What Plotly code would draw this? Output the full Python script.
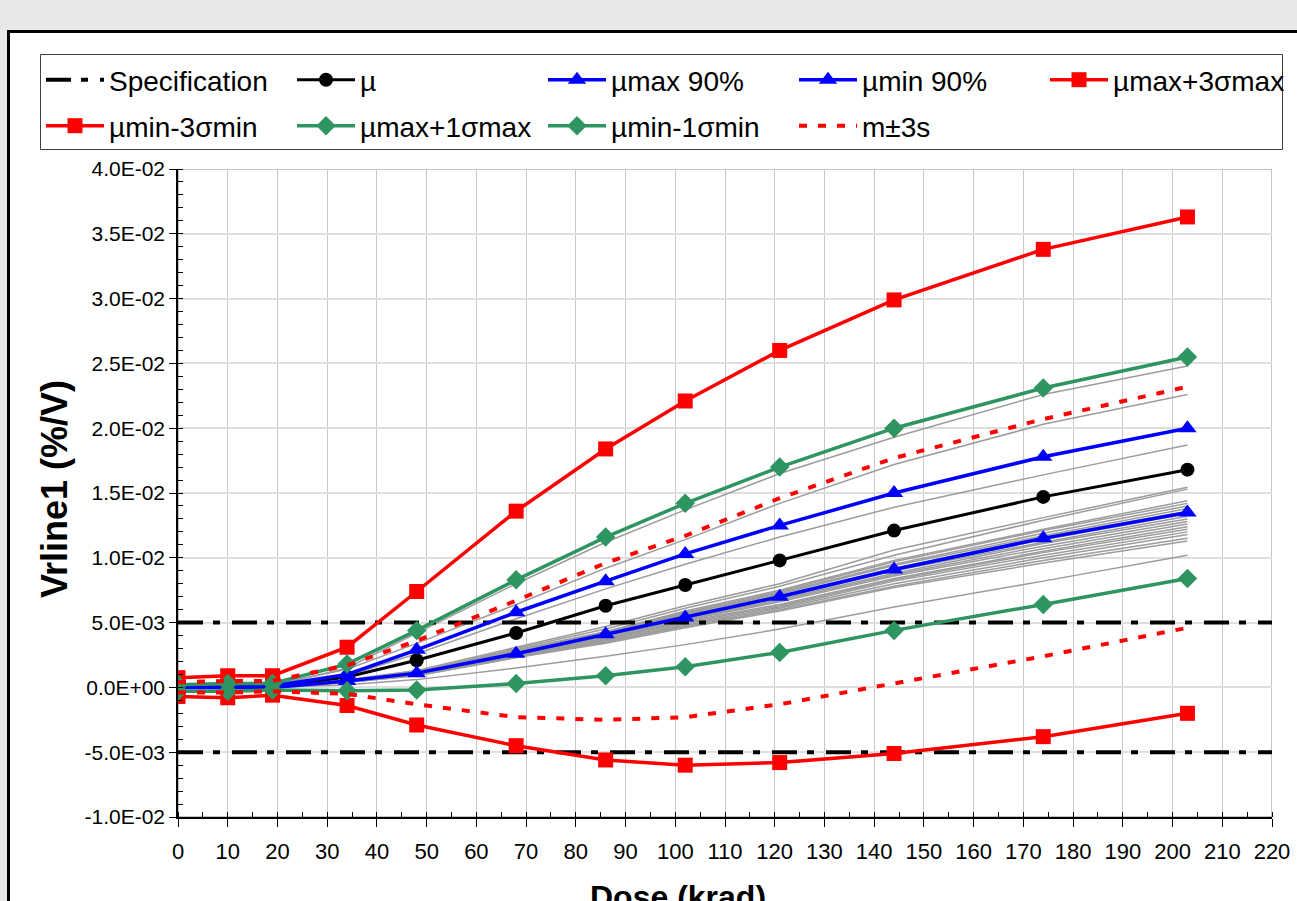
import plotly.graph_objects as go

# ---------------- data ----------------
dose = [0, 10, 19, 34, 48, 68, 86, 102, 121, 144, 174, 203]

mu = [0.0, 0.0, 0.00005, 0.0008, 0.0021, 0.0042, 0.0063, 0.0079, 0.0098, 0.0121, 0.0147, 0.0168]
mu_max90 = [0.0, 0.0, 0.0001, 0.0010, 0.0029, 0.0058, 0.0082, 0.0103, 0.0125, 0.0150, 0.0178, 0.0200]
mu_min90 = [0.0, 0.0, 0.0, 0.0005, 0.0011, 0.0026, 0.0041, 0.0054, 0.0070, 0.0091, 0.0115, 0.0135]
mu_max_3s = [0.00075, 0.0009, 0.0009, 0.0031, 0.0074, 0.0136, 0.0184, 0.0221, 0.0260, 0.0299, 0.0338, 0.0363]
mu_min_3s = [-0.0007, -0.0008, -0.0006, -0.0014, -0.0029, -0.0045, -0.0056, -0.0060, -0.0058, -0.0051, -0.0038, -0.0020]
mu_max_1s = [0.0002, 0.0003, 0.0003, 0.0018, 0.0044, 0.0083, 0.0116, 0.0142, 0.0170, 0.0200, 0.0231, 0.0255]
mu_min_1s = [-0.0003, -0.0003, -0.0002, -0.00025, -0.0002, 0.0003, 0.0009, 0.0016, 0.0027, 0.0044, 0.0064, 0.0084]
m3s_upper = [0.0004, 0.0005, 0.0005, 0.0017, 0.0036, 0.0067, 0.0096, 0.0117, 0.0146, 0.0177, 0.0207, 0.0232]
m3s_lower = [-0.0004, -0.0004, -0.0003, -0.0005, -0.0013, -0.0023, -0.0025, -0.0023, -0.0013, 0.0003, 0.0024, 0.0046]

spec_limits = [0.005, -0.005]
spec_x = [0, 220]

gray_lines = [
    [0.0, 0.0001, 0.0001, 0.0015, 0.0042, 0.0080, 0.0112, 0.0137, 0.0165, 0.0193, 0.0226, 0.0248],
    [0.0, 0.0002, 0.0002, 0.0014, 0.0034, 0.0064, 0.0092, 0.0114, 0.0142, 0.0172, 0.0203, 0.0226],
    [0.0, 0.0, 0.0001, 0.0009, 0.0026, 0.0053, 0.0076, 0.0095, 0.0116, 0.0139, 0.0164, 0.0187],
    [0.0, 0.0, 0.0, 0.0006, 0.0013, 0.0031, 0.0047, 0.0063, 0.0080, 0.0106, 0.0131, 0.01545],
    [0.0, 0.0, 0.0, 0.0005, 0.0012, 0.0030, 0.0045, 0.0061, 0.0078, 0.0102, 0.0129, 0.0153],
    [0.0, 0.0, 0.0, 0.0005, 0.0012, 0.0029, 0.0043, 0.0059, 0.0075, 0.0098, 0.0122, 0.0144],
    [0.0, 0.0, 0.0, 0.0005, 0.0012, 0.0028, 0.0043, 0.0058, 0.0074, 0.0097, 0.0121, 0.0142],
    [0.0, 0.0, 0.0, 0.0005, 0.0011, 0.0028, 0.0042, 0.0057, 0.0073, 0.0095, 0.0119, 0.0140],
    [0.0, 0.0, 0.0, 0.0005, 0.0011, 0.0028, 0.0041, 0.0057, 0.0072, 0.0094, 0.0117, 0.0138],
    [0.0, 0.0, 0.0, 0.0005, 0.0011, 0.0027, 0.0041, 0.0056, 0.0071, 0.0092, 0.0116, 0.0136],
    [0.0, 0.0, 0.0, 0.0005, 0.0011, 0.0027, 0.0040, 0.0055, 0.0070, 0.0091, 0.0114, 0.0134],
    [0.0, 0.0, 0.0, 0.0005, 0.0011, 0.0026, 0.0040, 0.0054, 0.0069, 0.0090, 0.0112, 0.0132],
    [0.0, 0.0, 0.0, 0.0005, 0.0011, 0.0026, 0.0039, 0.0053, 0.0068, 0.0088, 0.0111, 0.0130],
    [0.0, 0.0, 0.0, 0.0005, 0.0010, 0.0026, 0.0038, 0.0052, 0.0067, 0.0087, 0.0109, 0.0128],
    [0.0, 0.0, 0.0, 0.0005, 0.0010, 0.0025, 0.0038, 0.0052, 0.0066, 0.0086, 0.0107, 0.0126],
    [0.0, 0.0, 0.0, 0.0005, 0.0010, 0.0025, 0.0037, 0.0051, 0.0064, 0.0084, 0.0105, 0.0124],
    [0.0, 0.0, 0.0, 0.0005, 0.0010, 0.0024, 0.0037, 0.0050, 0.0063, 0.0083, 0.0104, 0.0122],
    [0.0, 0.0, 0.0, 0.0004, 0.0010, 0.0024, 0.0036, 0.0049, 0.0062, 0.0082, 0.0102, 0.0120],
    [0.0, 0.0, 0.0, 0.0004, 0.0010, 0.0024, 0.0035, 0.0048, 0.0061, 0.0080, 0.0100, 0.0118],
    [0.0, 0.0, 0.0, 0.0004, 0.0009, 0.0023, 0.0035, 0.0047, 0.0060, 0.0078, 0.0098, 0.0115],
    [0.0, 0.0, 0.0, 0.0004, 0.0009, 0.0023, 0.0034, 0.0046, 0.0059, 0.0077, 0.0096, 0.0113],
    [0.0, 0.0, 0.0, 0.0002, 0.0006, 0.0015, 0.0024, 0.0033, 0.0045, 0.0062, 0.0082, 0.0102],
]

y_tickvals = [-0.01, -0.005, 0.0, 0.005, 0.01, 0.015, 0.02, 0.025, 0.03, 0.035, 0.04]
y_ticktext = [f"{v:.1E}" for v in y_tickvals]
x_tickvals = list(range(0, 221, 10))

# ---------------- figure ----------------
W, H = 1297, 901
ML, MR, MT, MB = 178, 25, 169, 84
PW, PH = W - ML - MR, H - MT - MB


def px_x(px):
    return (px - ML) / PW


def px_y(py):
    return (H - MB - py) / PH


FONT = "Liberation Sans, Arial, sans-serif"

fig = go.Figure()

for g in gray_lines:
    fig.add_trace(go.Scatter(x=dose, y=g, mode="lines",
                             line=dict(color="#9c9c9c", width=1.5),
                             showlegend=False, hoverinfo="skip"))

spec_xs, spec_ys = [], []
for lim in spec_limits:
    spec_xs += spec_x + [None]
    spec_ys += [lim, lim, None]
fig.add_trace(go.Scatter(x=spec_xs, y=spec_ys, mode="lines", name="Specification",
                         line=dict(color="black", width=4, dash="25px,10px,7px,12px"),
                         legend="legend"))

def series(y, name, color, symbol, size, width, leg):
    fig.add_trace(go.Scatter(x=dose, y=y, mode="lines+markers", name=name,
                             line=dict(color=color, width=width),
                             marker=dict(color=color, symbol=symbol, size=size),
                             legend=leg))

series(mu, "µ", "black", "circle", 14, 3, "legend")
series(mu_max90, "µmax 90%", "#0000ff", "triangle-up", 16, 3.5, "legend")
series(mu_min90, "µmin 90%", "#0000ff", "triangle-up", 16, 3.5, "legend")
series(mu_max_3s, "µmax+3σmax", "#ff0000", "square", 15, 3.5, "legend")
series(mu_min_3s, "µmin-3σmin", "#ff0000", "square", 15, 3.5, "legend2")
series(mu_max_1s, "µmax+1σmax", "#2e9460", "diamond", 15, 3.5, "legend2")
series(mu_min_1s, "µmin-1σmin", "#2e9460", "diamond", 15, 3.5, "legend2")

fig.add_trace(go.Scatter(x=dose + [None] + dose, y=m3s_upper + [None] + m3s_lower,
                         mode="lines", name="m±3s",
                         line=dict(color="#ff0000", width=4, dash="8px,11px"),
                         legend="legend2"))

leg_common = dict(orientation="h", xanchor="left", yanchor="middle",
                  bgcolor="rgba(0,0,0,0)", borderwidth=0,
                  font=dict(family=FONT, size=28, color="black"),
                  entrywidth=178, entrywidthmode="pixels", itemwidth=58,
                  traceorder="normal")

fig.update_layout(
    width=W, height=H,
    margin=dict(l=ML, r=MR, t=MT, b=MB, autoexpand=False),
    paper_bgcolor="#e8e8e8",
    plot_bgcolor="white",
    font=dict(family=FONT, color="black"),
    legend=dict(x=px_x(41), y=px_y(80), **leg_common),
    legend2=dict(x=px_x(41), y=px_y(126), **leg_common),
    xaxis=dict(range=[0, 220], tickvals=x_tickvals, ticktext=[str(v) for v in x_tickvals],
               showgrid=True, gridcolor="#c8c8c8", gridwidth=1,
               showline=True, linecolor="black", linewidth=1.5,
               ticks="outside", ticklen=8, tickcolor="black", tickwidth=1,
               tickfont=dict(family=FONT, size=22, color="black"),
               ticklabelstandoff=6,
               minor=dict(dtick=5, tick0=0, ticks="inside", ticklen=5, tickcolor="black", showgrid=False),
               zeroline=False, fixedrange=True),
    yaxis=dict(range=[-0.01, 0.04], tickvals=y_tickvals, ticktext=y_ticktext,
               showgrid=True, gridcolor="#dedede", gridwidth=2,
               showline=True, linecolor="black", linewidth=1.5,
               ticks="outside", ticklen=7, tickcolor="black", tickwidth=1,
               tickfont=dict(family=FONT, size=21, color="black"),
               minor=dict(dtick=0.001, tick0=0, ticks="inside", ticklen=5, tickcolor="black", showgrid=False),
               zeroline=False, fixedrange=True),
    shapes=[
        dict(type="rect", xref="paper", yref="paper",
             x0=px_x(8.5), x1=px_x(1330), y0=px_y(940), y1=px_y(31.5),
             line=dict(color="black", width=3), fillcolor="white", layer="below"),
        dict(type="rect", xref="paper", yref="paper",
             x0=px_x(40.5), x1=px_x(1282.5), y0=px_y(149.5), y1=px_y(54.5),
             line=dict(color="#404040", width=1), fillcolor="white", layer="below"),
        dict(type="rect", xref="x", yref="y", x0=0, x1=220, y0=-0.01, y1=0.04,
             line=dict(color="#8a8a8a", width=1), fillcolor="rgba(0,0,0,0)", layer="below"),
    ],
    annotations=[
        dict(text="Vrline1 (%/V)", textangle=-90, xref="paper", yref="paper",
             x=px_x(54), y=px_y(489), xanchor="center", yanchor="middle", showarrow=False,
             font=dict(family=FONT, size=36, color="black", weight="bold")),
        dict(text="Dose (krad)", xref="paper", yref="paper",
             x=px_x(678), y=px_y(877), xanchor="center", yanchor="top", showarrow=False,
             font=dict(family=FONT, size=32, color="black", weight="bold")),
    ],
)

fig.write_html("out.html")
